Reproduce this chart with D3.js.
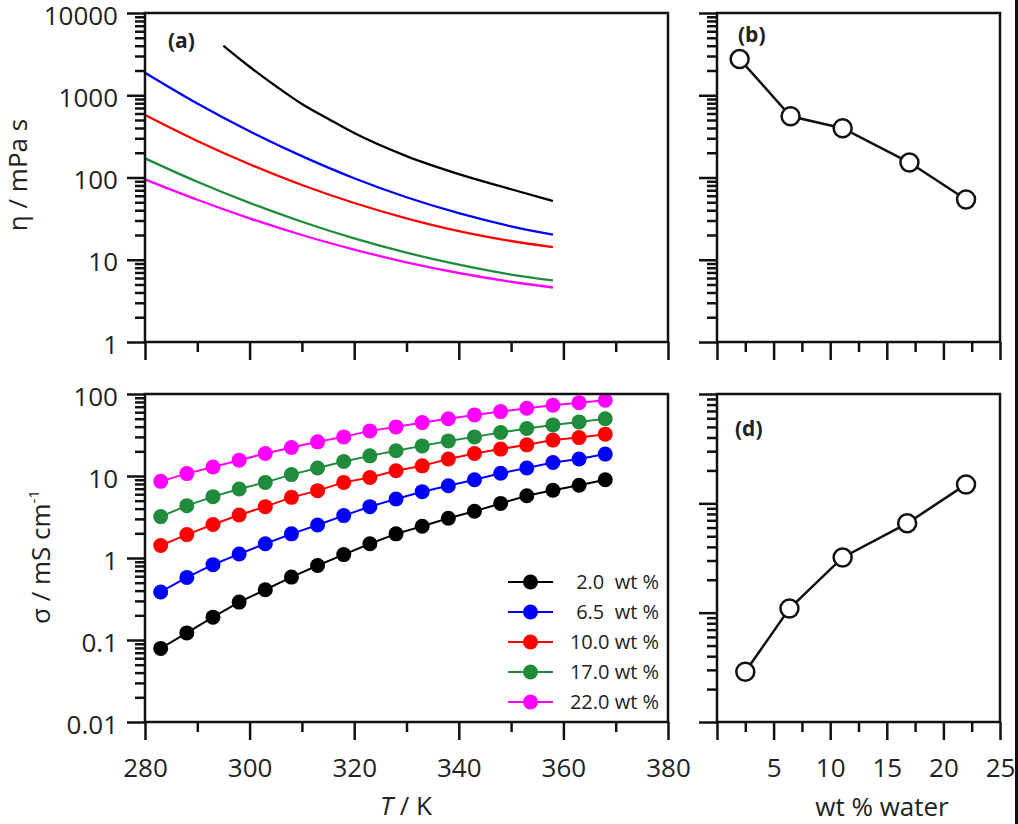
<!DOCTYPE html>
<html><head><meta charset="utf-8">
<script src="https://cdn.jsdelivr.net/npm/d3@7"></script>
<style>
body{margin:0;background:#fff;}
text{font-family:"Open Sans",sans-serif;fill:#222;}
</style></head>
<body><svg id="c" width="1018" height="824"></svg>
<script>
// ---------- data ----------
const seriesNames = ["2.0  wt %","6.5  wt %","10.0 wt %","17.0 wt %","22.0 wt %"];
const seriesColors = ["#000000","#0000ff","#ff0000","#1f8c3c","#ff00ff"];

// (a) viscosity curves
const tempEta = [280,290,300,310,320,330,340,350,358];
const tempEtaBlack = [295,300,305,310,315,320,330,340,350,358];
const eta20 = [4000,2220,1295,783,518,347,182,110,72,51.8];
const eta65 = [1880,794,365,182,98,57.5,36.8,25.5,20.2];
const eta100 = [575,278,145,81,49,31.9,22.3,16.9,14.2];
const eta170 = [171,88.7,49.1,29.0,18.2,12.2,8.7,6.6,5.6];
const eta220 = [95,53.7,31.9,20.0,13.3,9.3,6.9,5.4,4.6];

// (c) conductivity
const tempSigma = [283,288,293,298,303,308,313,318,323,328,333,338,343,348,353,358,363,368];
const sig20 = [0.079,0.122,0.19,0.29,0.41,0.585,0.81,1.10,1.49,1.97,2.44,3.05,3.71,4.63,5.75,6.7,7.7,9.0];
const sig65 = [0.385,0.58,0.83,1.12,1.49,1.97,2.53,3.29,4.23,5.25,6.44,7.6,9.0,10.8,12.5,14.6,16.1,18.5];
const sig100 = [1.42,1.93,2.56,3.35,4.23,5.49,6.63,8.36,9.6,11.6,13.3,16.1,18.8,21.3,24,27.4,29.4,32.4];
const sig170 = [3.2,4.35,5.6,6.93,8.36,10.4,12.5,15.0,17.6,20.3,23.3,26.8,30,33.9,37.9,42,45.7,50];
const sig220 = [8.6,10.7,12.9,15.6,18.8,22.3,26.1,30,35.5,39.7,44.8,50,55.6,61,67,72.9,78.4,83.8];

// (b) viscosity vs water, (d) conductivity vs water
const waterB = [2.0,6.5,11.1,17.0,22.0];
const etaWater = [2750,555,398,152,54];
const waterD = [2.5,6.4,11.1,16.8,22.0];
const sigmaWater = [0.288,1.09,3.2,6.56,14.9];

// tick labels
const tempTicks = [280,300,320,340,360,380];
const tempMinor = [290,310,330,350,370];
const etaTicks = [1,10,100,1000,10000];
const sigmaTicks = [0.01,0.1,1,10,100];
const waterTicks = [0,5,10,15,20,25];
const waterMinor = [2.5,7.5,12.5,17.5,22.5];

// ---------- layout ----------
const svg = d3.select("#c");
svg.append("rect").attr("width",1018).attr("height",824).attr("fill","#fff");
const L={x0:145,x1:668}, R={x0:717,x1:1000}, T={y0:13,y1:342}, B={y0:394,y1:722};

const xA = d3.scaleLinear([280,380],[L.x0,L.x1]);
const yA = d3.scaleLog([1,10000],[T.y1,T.y0]);
const xW = d3.scaleLinear([0,25],[R.x0,R.x1]);
const yC = d3.scaleLog([0.01,100],[B.y1,B.y0]);
const yD = d3.scaleLog([0.1,100],[B.y1,B.y0]);

function minorLog(dom){
  const out=[];
  let lo=Math.round(Math.log10(dom[0])), hi=Math.round(Math.log10(dom[1]));
  for(let e=lo;e<hi;e++) for(let m=2;m<=9;m++) out.push(m*Math.pow(10,e));
  return out;
}
function styleAxis(g){
  g.select(".domain").remove();
  g.selectAll("line").attr("stroke","#111").attr("stroke-width",2.5);
  g.selectAll("text").style("font-family","'Open Sans',sans-serif").style("font-size","26px").attr("fill","#222");
}
function bottomAxis(x,y,majors,minors,fmt){
  svg.append("g").attr("transform",`translate(0,${y})`)
    .call(d3.axisBottom(x).tickValues(minors).tickSize(10).tickFormat("")).call(styleAxis);
  svg.append("g").attr("transform",`translate(0,${y})`)
    .call(d3.axisBottom(x).tickValues(majors).tickSize(18).tickPadding(19).tickFormat(fmt)).call(styleAxis);
}
function leftAxis(x,y,majors,fmt){
  svg.append("g").attr("transform",`translate(${x},0)`)
    .call(d3.axisLeft(y).tickValues(minorLog(y.domain())).tickSize(10).tickFormat("")).call(styleAxis);
  svg.append("g").attr("transform",`translate(${x},0)`)
    .call(d3.axisLeft(y).tickValues(majors).tickSize(18).tickPadding(9).tickFormat(fmt)).call(styleAxis)
    .selectAll("text").attr("dy","0.43em");
}
function frame(x0,x1,y0,y1){
  svg.append("rect").attr("x",x0).attr("y",y0).attr("width",x1-x0).attr("height",y1-y0)
    .attr("fill","none").attr("stroke","#111").attr("stroke-width",2.5);
}
const fmtNum = d=>String(d);

// axes
bottomAxis(xA,T.y1,tempTicks,tempMinor,"");
bottomAxis(xA,B.y1,tempTicks,tempMinor,fmtNum);
bottomAxis(xW,T.y1,waterTicks,waterMinor,"");
bottomAxis(xW,B.y1,waterTicks,waterMinor,d=>d===0?"":String(d));
leftAxis(L.x0,yA,etaTicks,fmtNum);
leftAxis(L.x0,yC,sigmaTicks,fmtNum);
leftAxis(R.x0,yA,etaTicks,"");
leftAxis(R.x0,yD,[0.1,1,10,100],"");

// (a) curves
const etaSeries = [
  {t:tempEtaBlack,v:eta20},{t:tempEta,v:eta65},{t:tempEta,v:eta100},{t:tempEta,v:eta170},{t:tempEta,v:eta220}];
const lineA = d3.line().x(d=>xA(d[0])).y(d=>yA(d[1])).curve(d3.curveMonotoneX);
etaSeries.forEach((s,i)=>{
  svg.append("path").datum(s.t.map((t,j)=>[t,s.v[j]])).attr("d",lineA)
    .attr("fill","none").attr("stroke",seriesColors[i]).attr("stroke-width",2.3);
});

// (c) conductivity
const sigSeries=[sig20,sig65,sig100,sig170,sig220];
const lineC = d3.line().x(d=>xA(d[0])).y(d=>yC(d[1]));
sigSeries.forEach((v,i)=>{
  const pts = tempSigma.map((t,j)=>[t,v[j]]);
  svg.append("path").datum(pts).attr("d",lineC).attr("fill","none").attr("stroke",seriesColors[i]).attr("stroke-width",2);
  svg.append("g").selectAll("circle").data(pts).join("circle")
    .attr("cx",d=>xA(d[0])).attr("cy",d=>yC(d[1])).attr("r",7.5).attr("fill",seriesColors[i]);
});

// legend
const legX0=508, legX1=553, legY0=582, legDy=30;
seriesNames.forEach((n,i)=>{
  const y=legY0+i*legDy;
  svg.append("line").attr("x1",legX0).attr("x2",legX1).attr("y1",y).attr("y2",y).attr("stroke",seriesColors[i]).attr("stroke-width",2);
  svg.append("circle").attr("cx",(legX0+legX1)/2).attr("cy",y).attr("r",7.5).attr("fill",seriesColors[i]);
  svg.append("text").attr("x",659).attr("y",y).attr("dy","0.36em").attr("text-anchor","end")
    .attr("xml:space","preserve").style("white-space","pre").style("font-size","20px").text(n);
});

// (b) and (d)
function openSeries(xs,vs,y){
  const pts=xs.map((x,j)=>[x,vs[j]]);
  svg.append("path").datum(pts).attr("d",d3.line().x(d=>xW(d[0])).y(d=>y(d[1])))
    .attr("fill","none").attr("stroke","#111").attr("stroke-width",2.5);
  svg.append("g").selectAll("circle").data(pts).join("circle")
    .attr("cx",d=>xW(d[0])).attr("cy",d=>y(d[1])).attr("r",9)
    .attr("fill","#fff").attr("stroke","#111").attr("stroke-width",2.5);
}
openSeries(waterB,etaWater,yA);
openSeries(waterD,sigmaWater,yD);

frame(L.x0,L.x1,T.y0,T.y1);
frame(R.x0,R.x1,T.y0,T.y1);
frame(L.x0,L.x1,B.y0,B.y1);
frame(R.x0,R.x1,B.y0,B.y1);

// panel labels
[["(a)",168,48],["(b)",738,42],["(d)",735,436]].forEach(p=>{
  svg.append("text").attr("x",p[1]).attr("y",p[2]).style("font-size","21px").style("font-weight","700").text(p[0]);
});

// axis titles
svg.append("text").attr("transform","translate(17,175) rotate(-90)").attr("text-anchor","middle")
  .attr("dominant-baseline","central").style("font-size","26px").text("η / mPa s");
const sT = svg.append("text").attr("transform","translate(40,557) rotate(-90)").attr("text-anchor","middle")
  .attr("dominant-baseline","central").style("font-size","26px");
sT.append("tspan").text("σ / mS cm");
sT.append("tspan").attr("dy","-0.5em").style("font-size","15px").text("-1");
const tT = svg.append("text").attr("x",406).attr("y",805).attr("text-anchor","middle")
  .attr("dominant-baseline","central").style("font-size","26px");
tT.append("tspan").style("font-style","italic").text("T");
tT.append("tspan").text(" / K");
svg.append("text").attr("x",882).attr("y",806).attr("text-anchor","middle")
  .attr("dominant-baseline","central").style("font-size","26px").text("wt % water");

// right edge dark strip
svg.append("rect").attr("x",1015).attr("y",0).attr("width",3).attr("height",824).attr("fill","#111");
</script></body></html>
